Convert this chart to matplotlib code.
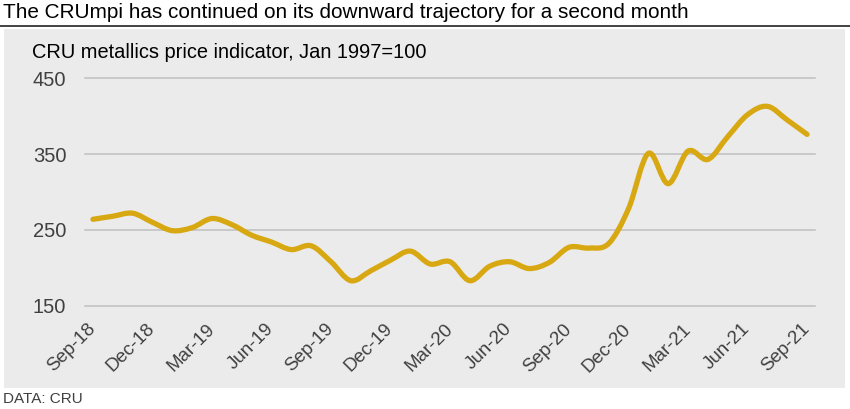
import numpy as np
import matplotlib
matplotlib.use("Agg")
import matplotlib.pyplot as plt
from matplotlib.path import Path
from matplotlib.patches import PathPatch, Rectangle
from matplotlib.lines import Line2D

plt.rcParams['font.family'] = ['Liberation Sans', 'DejaVu Sans']
plt.rcParams['ytick.major.pad'] = 13.5
plt.rcParams['xtick.major.pad'] = 15
plt.rcParams['ytick.major.size'] = 0
plt.rcParams['xtick.major.size'] = 0

months = ["Sep-18", "Oct-18", "Nov-18", "Dec-18", "Jan-19", "Feb-19", "Mar-19", "Apr-19",
          "May-19", "Jun-19", "Jul-19", "Aug-19", "Sep-19", "Oct-19", "Nov-19", "Dec-19",
          "Jan-20", "Feb-20", "Mar-20", "Apr-20", "May-20", "Jun-20", "Jul-20", "Aug-20",
          "Sep-20", "Oct-20", "Nov-20", "Dec-20", "Jan-21", "Feb-21", "Mar-21", "Apr-21",
          "May-21", "Jun-21", "Jul-21", "Aug-21", "Sep-21"]
cru_mpi = [264, 268, 272, 260, 249, 253, 265, 257, 243, 234, 224, 229, 208, 183, 196, 210,
           222, 205, 208, 183, 202, 208, 199, 207, 227, 226, 232, 278, 351, 311, 354, 343,
           373, 402, 413, 395, 376]
y_ticks = [150, 250, 350, 450]
x_tick_labels = months[::3]

title = "The CRUmpi has continued on its downward trajectory for a second month"
subtitle = "CRU metallics price indicator, Jan 1997=100"
source = "DATA: CRU"

W, H = 850, 409
fig = plt.figure(figsize=(W / 100, H / 100), dpi=100)
fig.patch.set_facecolor("white")

# grey panel
fig.patches.append(Rectangle((4 / W, 1 - 388 / H), 841 / W, (388 - 29) / H,
                             transform=fig.transFigure, facecolor="#EBEBEB",
                             edgecolor="none", zorder=-5))
# rule under title
fig.lines.append(Line2D([0, 1], [1 - 26 / H, 1 - 26 / H], transform=fig.transFigure,
                        color="#222222", linewidth=1.2, zorder=-4))

fig.text(3 / W, 1 - 13 / H, title, fontsize=14.95, color="black", va="center", ha="left")
fig.text(32 / W, 1 - 52 / H, subtitle, fontsize=14.4, color="black", va="center", ha="left")
fig.text(3 / W, 1 - 399 / H, source, fontsize=11, color="#404040", va="center", ha="left")

left, right = 85 / W, 815 / W
top, bottom = 1 - 78.3 / H, 1 - 305.7 / H
ax = fig.add_axes([left, bottom, right - left, top - bottom])
ax.set_zorder(2)
ax.set_facecolor("none")
for s in ax.spines.values():
    s.set_visible(False)

x = np.arange(len(cru_mpi), dtype=float)
y = np.array(cru_mpi, dtype=float)

# smoothed line (Catmull-Rom as cubic Bezier)
verts = [(x[0], y[0])]
codes = [Path.MOVETO]
n = len(x)
for i in range(n - 1):
    p0 = np.array([x[max(i - 1, 0)], y[max(i - 1, 0)]])
    p1 = np.array([x[i], y[i]])
    p2 = np.array([x[i + 1], y[i + 1]])
    p3 = np.array([x[min(i + 2, n - 1)], y[min(i + 2, n - 1)]])
    c1 = p1 + (p2 - p0) / 6.0
    c2 = p2 - (p3 - p1) / 6.0
    verts += [tuple(c1), tuple(c2), tuple(p2)]
    codes += [Path.CURVE4, Path.CURVE4, Path.CURVE4]
path = Path(verts, codes)
ax.add_patch(PathPatch(path, facecolor="none", edgecolor="#D8A812", linewidth=3.8,
                       capstyle="round", joinstyle="round", zorder=3))

for v in y_ticks:
    ax.axhline(v, color="#BFBFBF", linewidth=1.1, zorder=1, clip_on=False)

ax.set_xlim(-0.4, n - 1 + 0.4)
ax.set_ylim(150, 450)
ax.set_yticks(y_ticks)
ax.set_yticklabels([str(v) for v in y_ticks], fontsize=14.5, color="#404040")
ax.set_xticks(x[::3])
ax.set_xticklabels(x_tick_labels, fontsize=13.5, color="#404040", rotation=45,
                   ha="right", rotation_mode="anchor", va="center")

fig.savefig("out.png", dpi=100, facecolor="white")
